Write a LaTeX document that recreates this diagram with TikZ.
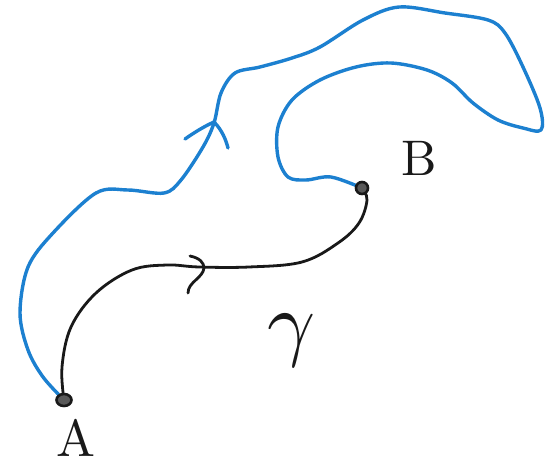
\documentclass[tikz,border=0pt]{standalone}
\usepackage{tikz}
\usetikzlibrary{shapes.geometric}
\definecolor{penblue}{RGB}{28,128,208}
\definecolor{penblack}{RGB}{25,25,25}
\tikzset{
  bluestroke/.style={draw=penblue, line width=3.4pt, line cap=round, line join=round},
  inkstroke/.style={draw=penblack, line width=2.8pt, line cap=round, line join=round},
  enddot/.style={circle, draw=penblack, line width=2.6pt, fill=gray!70!black, inner sep=0pt},
  letter/.style={text=penblack, inner sep=0pt}
}
\begin{document}
\begin{tikzpicture}[x=1pt, y=-1pt]
  \useasboundingbox (0,0) rectangle (558,469);

  % end points of both paths
  \coordinate (pA) at (64,400);
  \coordinate (pB) at (362,188);

  % wandering blue path from A to B
  \draw[bluestroke] plot[smooth, tension=0.55] coordinates {
    (pA) (43,377) (28,350) (20,313) (28,267) (53,233) (96,193) (128,190)
    (164,193) (181,180) (203,147) (214,123) (221,93) (235,73) (260,67)
    (292,58) (320,47) (363,20) (399,7) (445,13) (488,20) (505,33) (523,67)
    (540,108) (541,130) (523,128) (498,120) (473,103) (452,83) (427,70)
    (391,63) (356,67) (320,80) (292,100) (278,127) (278,157) (288,177)
    (306,180) (331,177) (pB)};
  % blue arrowhead
  \coordinate (bt) at (214,122);
  \draw[bluestroke] (185,139) .. controls (195,132) and (205,126) .. (bt);
  \draw[bluestroke] (bt) .. controls (222,130) and (226,140) .. (228,148);

  % black path gamma from A to B
  \draw[inkstroke] plot[smooth, tension=0.6] coordinates {
    (pA) (62,367) (71,327) (96,293) (132,270) (167,265) (199,267)
    (249,267) (302,262) (338,243) (359,223) (367,200) (pB)};
  % black arrowhead
  \coordinate (kt) at (204,268);
  \draw[inkstroke] (190,256) .. controls (200,258) and (204,263) .. (kt);
  \draw[inkstroke] (kt) .. controls (203,278) and (188,282) .. (188,293);

  % end point dots
  \node[enddot, ellipse, minimum width=15pt, minimum height=12pt] (A) at (pA) {};
  \node[enddot, minimum size=12pt] (B) at (pB) {};

  % labels
  \node[letter, scale=5.2] (la) at (76,438) {A};
  \node[letter, scale=5.0] (lb) at (419,158) {B};
  \node[letter, scale=8.4] (lg) at (292,341) {$\gamma$};
\end{tikzpicture}
\end{document}
